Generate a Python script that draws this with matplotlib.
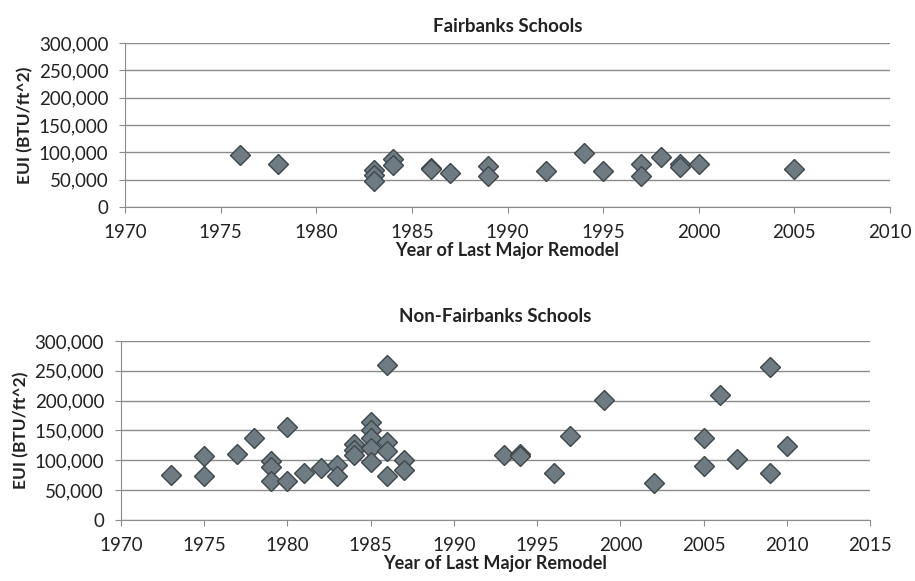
import matplotlib.pyplot as plt
from matplotlib.ticker import FuncFormatter

plt.rcParams['font.family'] = ['Lato', 'DejaVu Sans']

# Fairbanks schools
fb_year = [1976, 1978, 1983, 1983, 1983, 1984, 1984, 1986, 1986, 1987, 1989, 1989,
           1992, 1994, 1995, 1997, 1997, 1998, 1999, 1999, 2000, 2005]
fb_eui = [96000, 78000, 67000, 58000, 47000, 88000, 76000, 72000, 69000, 63000, 75000, 57000,
          66000, 99000, 65000, 78000, 56000, 92000, 78000, 73000, 79000, 70000]

# Non-Fairbanks schools
nf_year = [1973, 1975, 1975, 1977, 1978, 1979, 1979, 1979, 1980, 1980, 1981, 1982, 1983, 1983,
           1984, 1984, 1984, 1985, 1985, 1985, 1985, 1985, 1986, 1986, 1986, 1986, 1987, 1987,
           1993, 1994, 1994, 1996, 1997, 1999, 2002, 2005, 2005, 2006, 2007, 2009, 2009, 2010]
nf_eui = [75000, 107000, 74000, 110000, 138000, 99000, 89000, 66000, 156000, 66000, 78000, 87000, 93000, 74000,
          128000, 118000, 109000, 164000, 150000, 138000, 120000, 97000, 260000, 131000, 115000, 74000, 100000, 84000,
          109000, 110000, 107000, 79000, 140000, 201000, 62000, 138000, 91000, 209000, 102000, 257000, 78000, 124000]

yticks = [0, 50000, 100000, 150000, 200000, 250000, 300000]


def style_axes(ax, xmax):
    ax.set_ylim(0, 300000)
    ax.set_xlim(1970, xmax)
    ax.set_yticks(yticks)
    ax.set_xticks(range(1970, xmax + 1, 5))
    ax.yaxis.set_major_formatter(FuncFormatter(lambda v, p: f"{int(v):,}"))
    ax.grid(axis='y', color='#8c8c8c', linewidth=1.0)
    ax.set_axisbelow(True)
    for s in ['top', 'right']:
        ax.spines[s].set_visible(False)
    for s in ['left', 'bottom']:
        ax.spines[s].set_color('#8c8c8c')
    ax.tick_params(colors='#8c8c8c', labelcolor='#222222', labelsize=13.5, length=4)
    ax.tick_params(axis='y', pad=8)
    ax.tick_params(axis='x', pad=8)
    ax.set_ylabel('EUI (BTU/ft^2)', fontsize=12.5, fontweight='bold', color='#222222', labelpad=4)
    ax.set_xlabel('Year of Last Major Remodel', fontsize=13, fontweight='bold', color='#222222', labelpad=1)


fig = plt.figure(figsize=(9.15, 5.81), dpi=100)

ax1 = fig.add_axes([0.1366, 0.6437, 0.8361, 0.2823])
ax1.plot(fb_year, fb_eui, 'D', markersize=10, color='#6e7b82', markeredgecolor='#3d474c', markeredgewidth=1)
style_axes(ax1, 2010)
ax1.set_title('Fairbanks Schools', fontsize=13.5, fontweight='bold', color='#222222', pad=8)

ax2 = fig.add_axes([0.132, 0.105, 0.819, 0.3081])
ax2.plot(nf_year, nf_eui, 'D', markersize=10, color='#6e7b82', markeredgecolor='#3d474c', markeredgewidth=1)
style_axes(ax2, 2015)
ax2.set_title('Non-Fairbanks Schools', fontsize=13.5, fontweight='bold', color='#222222', pad=14)

fig.savefig('out.png', dpi=100)
